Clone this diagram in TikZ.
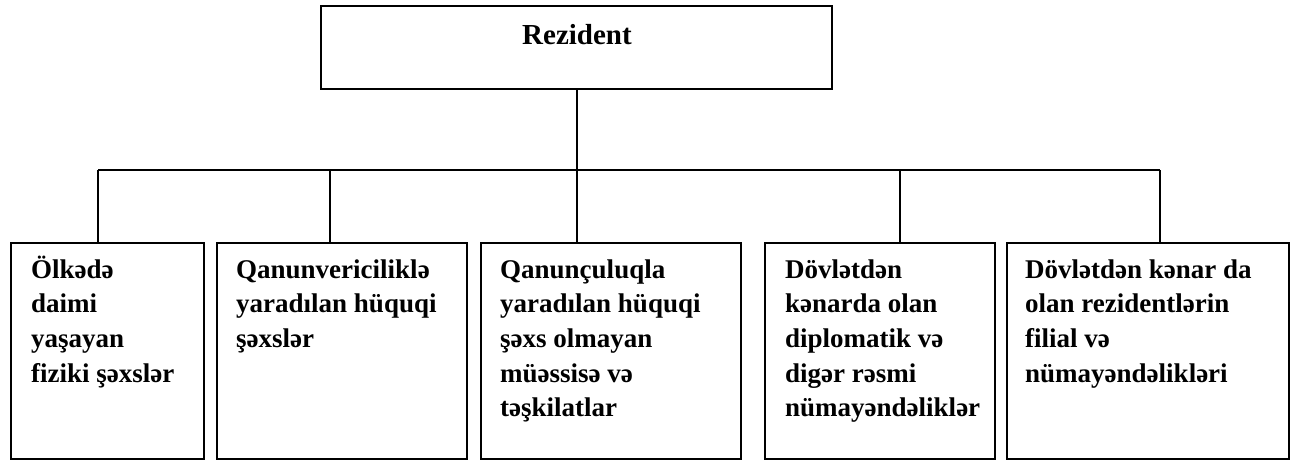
\documentclass[tikz,border=0pt]{standalone}
\usepackage{fontspec}
\setmainfont{Liberation Serif}
\usetikzlibrary{positioning}
\newcommand{\tallrow}{\rule{0pt}{30pt}}

\begin{document}
\begin{tikzpicture}[
    x=1pt, y=-1pt,
    font=\bfseries,
    head/.style={draw, line width=1.7pt, minimum width=511pt, minimum height=83pt,
      inner sep=0pt},
    leaf/.style={draw, line width=1.7pt, minimum height=216pt, inner sep=0pt,
      anchor=north west},
    txt/.style={anchor=north west, inner sep=0pt, align=left,
      font=\bfseries\fontsize{27}{34.6}\selectfont},
    link/.style={line width=1.3pt}
  ]
    \useasboundingbox (0,0) rectangle (1309,459);
    % Kök
    \node[head] (rez) at (576.5,47.5) {};
    \node[anchor=base, inner sep=0pt, font=\bfseries\fontsize{29}{32}\selectfont]
          (reztxt) at (577,44) {Rezident};
    % Alt qutular
    \node[leaf, minimum width=193pt] (olke) at (10,242) {};
    \node[leaf, minimum width=250pt] (qanv) at (216,242) {};
    \node[leaf, minimum width=260pt] (qanc) at (480,242) {};
    \node[leaf, minimum width=230pt] (dipl) at (764,242) {};
    \node[leaf, minimum width=282pt] (fili) at (1006,242) {};
    \node[txt] (olketxt) at ([xshift=21pt,yshift=-6pt]olke.north west)
          {\tallrow Ölkədə\\daimi\\yaşayan\\fiziki şəxslər};
    \node[txt] (qanvtxt) at ([xshift=20pt,yshift=-6pt]qanv.north west)
          {\tallrow Qanunvericiliklə\\yaradılan hüquqi\\şəxslər};
    \node[txt] (qanctxt) at ([xshift=20pt,yshift=-6pt]qanc.north west)
          {\tallrow Qanunçuluqla\\yaradılan hüquqi\\şəxs olmayan\\müəssisə və\\təşkilatlar};
    \node[txt] (dipltxt) at ([xshift=21pt,yshift=-6pt]dipl.north west)
          {\tallrow Dövlətdən\\kənarda olan\\diplomatik və\\digər rəsmi\\nümayəndəliklər};
    \node[txt] (filitxt) at ([xshift=19pt,yshift=-6pt]fili.north west)
          {\tallrow Dövlətdən kənar da\\olan rezidentlərin\\filial və\\nümayəndəlikləri};
    % Şaxələr
    \coordinate (j1) at (98,170);
    \coordinate (j2) at (330,170);
    \coordinate (j3) at (577,170);
    \coordinate (j4) at (900,170);
    \coordinate (j5) at (1160,170);
    \draw[link] (rez.south -| j3) -- (j3);
    \draw[link] (j1) -- (j5);
    \draw[link] (j1) -- (j1 |- olke.north);
    \draw[link] (j2) -- (j2 |- qanv.north);
    \draw[link] (j3) -- (j3 |- qanc.north);
    \draw[link] (j4) -- (j4 |- dipl.north);
    \draw[link] (j5) -- (j5 |- fili.north);
  \end{tikzpicture}
\end{document}
